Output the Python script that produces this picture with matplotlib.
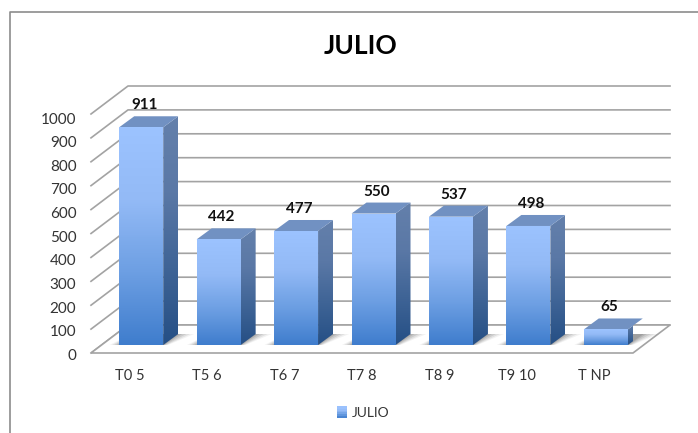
import numpy as np
import matplotlib
matplotlib.use("Agg")
import matplotlib.pyplot as plt
from matplotlib.colors import LinearSegmentedColormap
from matplotlib.legend_handler import HandlerBase
from matplotlib.lines import Line2D
from matplotlib.patches import Patch, Polygon, Rectangle
from matplotlib.transforms import Affine2D

categories = ["T0 5", "T5 6", "T6 7", "T7 8", "T8 9", "T9 10", "T NP"]
values = [911, 442, 477, 550, 537, 498, 65]
y_ticks = list(range(0, 1001, 100))

plt.rcParams["font.family"] = ["Lato", "DejaVu Sans"]

W, H = 698, 433
fig = plt.figure(figsize=(W / 100, H / 100), dpi=100)
# front plane of the 3D box: 91..633 px wide, 114..353 px from top
ax = fig.add_axes([91 / W, 1 - 353 / H, 542 / W, 239 / H])
ax.patch.set_visible(False)

PX_X = 542 / 7        # pixels per category
PX_Y = 239 / 1000     # pixels per value unit
BAR_W = 44 / PX_X
FLOOR_DX, FLOOR_DY = 37 / PX_X, 28 / PX_Y    # depth of the box
OFF_DX, OFF_DY = 11.5 / PX_X, 8 / PX_Y       # bar front, away from box front
BAR_DX, BAR_DY = 15 / PX_X, 11 / PX_Y        # depth of a bar

GRID = "#a3a3a3"
front_cmap = LinearSegmentedColormap.from_list(
    "front", ["#9cc3ff", "#93baf6", "#6d9fe3", "#3f7dcd"])
side_cmap = LinearSegmentedColormap.from_list(
    "side", ["#6480ab", "#5a78a6", "#3f6496", "#254f85"])
grad = np.linspace(0, 1, 128).reshape(-1, 1)

x0, x1 = -0.5, 6.5

# ── gridlines on side wall and back wall ──────────────────────────────
for t in y_ticks:
    ax.plot([x0, x0 + FLOOR_DX, x1 + FLOOR_DX],
            [t, t + FLOOR_DY, t + FLOOR_DY],
            color=GRID, lw=1.2, clip_on=False, zorder=1)

# floor
ax.add_patch(Polygon([(x0, 0), (x1, 0), (x1 + FLOOR_DX, FLOOR_DY), (x0 + FLOOR_DX, FLOOR_DY)],
                     closed=True, fc="white", ec=GRID, lw=1.2, clip_on=False, zorder=1.5))


def gradient_face(cmap, verts, zorder):
    xs, ys = zip(*verts)
    im = ax.imshow(grad, cmap=cmap, aspect="auto", extent=(min(xs), max(xs), min(ys), max(ys)),
                   zorder=zorder, interpolation="bilinear")
    clip = Polygon(verts, closed=True, transform=ax.transData)
    im.set_clip_path(clip)


# ── bars ──────────────────────────────────────────────────────────────
for i, v in enumerate(values):
    left = i + OFF_DX - BAR_W / 2
    right = left + BAR_W
    base = OFF_DY
    top = base + v

    # soft shadow on the floor
    for grow, a in [(16, 0.08), (12, 0.12), (8, 0.16), (4, 0.2), (1, 0.25)]:
        gx = grow / PX_X
        ax.add_patch(Polygon([(left - gx * 0.6, base), (right + gx * 0.3, base),
                              (right + BAR_DX + gx, base + BAR_DY),
                              (left + BAR_DX - gx * 0.2, base + BAR_DY)],
                             closed=True, fc="#606060", ec="none", alpha=a,
                             clip_on=False, zorder=2))

    gradient_face(front_cmap, [(left, base), (right, base), (right, top), (left, top)], 5)
    gradient_face(side_cmap, [(right, base), (right + BAR_DX, base + BAR_DY),
                              (right + BAR_DX, top + BAR_DY), (right, top)], 4)
    ax.add_patch(Polygon([(left, top), (right, top), (right + BAR_DX, top + BAR_DY),
                          (left + BAR_DX, top + BAR_DY)],
                         closed=True, fc="#7191c2", ec="none", clip_on=False, zorder=4))

    ax.annotate(str(v), (i + OFF_DX, top), xytext=(3, 22), textcoords="offset pixels",
                ha="center", va="center", fontsize=11, fontweight="bold",
                color="#111111", zorder=6, annotation_clip=False)

ax.set_xlim(x0, x1)
ax.set_ylim(0, 1000)
ax.set_xticks(range(len(categories)), categories)
ax.set_yticks(y_ticks)
ax.tick_params(axis="both", length=0, labelsize=10.5, labelcolor="#333333")
ax.tick_params(axis="y", labelsize=11, pad=10.5)
ax.tick_params(axis="x", pad=11.5)
# the value labels in the reference sit on a slightly tighter spacing than the gridlines
for t, lab in zip(y_ticks, ax.get_yticklabels()):
    lab.set_transform(lab.get_transform() + Affine2D().translate(0, -1.5 - 2.5 * t / 1000))
for s in ax.spines.values():
    s.set_visible(False)

fig.text(361 / W, 1 - 46 / H, "JULIO", ha="center", va="center",
         fontsize=19, fontweight="bold", color="black")


# ── legend with a small gradient swatch ───────────────────────────────
class GradientSwatch(HandlerBase):
    def create_artists(self, legend, orig, xd, yd, width, height, fontsize, trans):
        n = 6
        return [Rectangle((-xd, -yd + height * k / n), width, height / n + 0.3,
                          fc=front_cmap(1 - (k + 0.5) / n), ec="none", transform=trans)
                for k in range(n)]


proxy = Patch(label="JULIO")
fig.legend(handles=[proxy], handler_map={proxy: GradientSwatch()},
           loc="center", bbox_to_anchor=(363 / W, 1 - 413 / H), frameon=False,
           fontsize=10, labelcolor="#333333", handlelength=0.7, handleheight=0.9,
           handletextpad=0.35)

# chart border, only top and left inside the crop
fig.add_artist(Line2D([10 / W, 10 / W, 1], [0, 1 - 12 / H, 1 - 12 / H], color="#8c8c8c", lw=1.2))

fig.savefig("out.png", dpi=100)
